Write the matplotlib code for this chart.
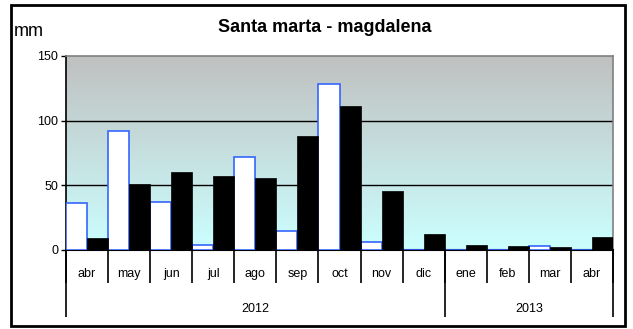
import numpy as np
import matplotlib
matplotlib.use('Agg')
from matplotlib import pyplot as plt
from matplotlib.colors import LinearSegmentedColormap
from matplotlib.patches import Rectangle

plt.rcParams['font.family'] = ['Liberation Sans', 'DejaVu Sans']

meses = ['abr', 'may', 'jun', 'jul', 'ago', 'sep', 'oct', 'nov', 'dic',
         'ene', 'feb', 'mar', 'abr']
anios = ['2012', '2013']
meses_por_anio = [9, 4]
serie_blanca = [36, 92, 37, 4, 72, 15, 128, 6, 0, 0, 0, 3, 0]   # barras blancas con borde azul
serie_negra = [9, 51, 60, 57, 56, 88, 111, 46, 12, 4, 3, 2, 10]

W, H = 633, 329
fig = plt.figure(figsize=(W / 100, H / 100), dpi=100)

# marco exterior
fig.patches.append(Rectangle((11 / W, 3 / H), 614 / W, 321 / H, transform=fig.transFigure,
                             fill=False, edgecolor='black', linewidth=2))

ax = fig.add_axes([66 / W, (H - 250) / H, 547 / W, 194 / H])
n = len(meses)
x = np.arange(n)

# fondo degradado gris -> cian
grad = LinearSegmentedColormap.from_list('fondo', ['#ccffff', '#c0c0c0'])
ax.imshow(np.linspace(0, 1, 256).reshape(-1, 1), cmap=grad, aspect='auto',
          extent=[-0.5, n - 0.5, 0, 150], origin='lower', zorder=0)

ax.bar(x - 0.25, serie_blanca, width=0.5, color='white', edgecolor='#3366ff',
       linewidth=1.2, zorder=3)
ax.bar(x + 0.25, serie_negra, width=0.5, color='black', edgecolor='black',
       linewidth=0.5, zorder=3)

ax.set_xlim(-0.5, n - 0.5)
ax.set_ylim(0, 150)
ax.set_yticks([0, 50, 100, 150])
ax.tick_params(axis='y', length=3.6, width=1, labelsize=9, pad=2)
for v in [50, 100]:
    ax.axhline(v, color='black', linewidth=1, zorder=2)

for s in ['top', 'right']:
    ax.spines[s].set_color('#808080')
    ax.spines[s].set_linewidth(1.2)
ax.spines['left'].set_linewidth(1.2)
ax.spines['bottom'].set_linewidth(1.5)

# meses
ax.set_xticks(np.arange(n + 1) - 0.5)
ax.set_xticklabels([])
ax.set_xticks(x, minor=True)
ax.set_xticklabels(meses, minor=True)
ax.tick_params(axis='x', which='major', length=24, width=1.2, direction='out')
ax.tick_params(axis='x', which='minor', length=0, labelsize=9, pad=13)

# años
sec = ax.secondary_xaxis(0)
limites = np.concatenate([[0], np.cumsum(meses_por_anio)]) - 0.5
sec.set_xticks(limites)
sec.set_xticklabels([])
centros = (limites[:-1] + limites[1:]) / 2
sec.set_xticks(centros, minor=True)
sec.set_xticklabels(anios, minor=True)
sec.tick_params(axis='x', which='major', length=48, width=1.2)
sec.tick_params(axis='x', which='minor', length=0, labelsize=9, pad=38)
sec.spines['bottom'].set_visible(False)

fig.text(325 / W, 1 - 27 / H, 'Santa marta - magdalena', ha='center', va='center',
         fontsize=13, fontweight='bold')
fig.text(14 / W, 1 - 31 / H, 'mm', ha='left', va='center', fontsize=13)

fig.savefig('out.png', dpi=100)
